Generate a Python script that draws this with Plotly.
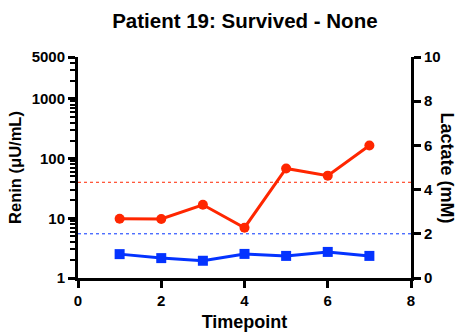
import math
import plotly.graph_objects as go

timepoints = [1, 2, 3, 4, 5, 6, 7]
renin = [9.8, 9.7, 16.8, 6.95, 68, 51.7, 165]
lactate = [1.08, 0.90, 0.78, 1.09, 1.0, 1.18, 1.0]
renin_threshold = 40
lactate_threshold = 2
renin_ticks = [1, 10, 100, 1000, 5000]
renin_minor = [m * 10 ** d for d in range(0, 4) for m in range(2, 10) if m * 10 ** d < 5000]
lactate_ticks = [0, 2, 4, 6, 8, 10]
x_ticks = [0, 2, 4, 6, 8]

RED = "#FF2600"
BLUE = "#0433FF"
FONT = "Arial, Liberation Sans, sans-serif"


def bold(vals):
    return ["<b>%s</b>" % v for v in vals]


fig = go.Figure()
fig.add_trace(go.Scatter(
    x=timepoints, y=renin, mode="lines+markers", yaxis="y",
    line=dict(color=RED, width=3), marker=dict(symbol="circle", size=10, color=RED),
    showlegend=False))
fig.add_trace(go.Scatter(
    x=timepoints, y=lactate, mode="lines+markers", yaxis="y2",
    line=dict(color=BLUE, width=3), marker=dict(symbol="square", size=10, color=BLUE),
    showlegend=False))

fig.add_shape(type="line", xref="paper", yref="y", x0=0, x1=1,
              y0=renin_threshold, y1=renin_threshold,
              line=dict(color=RED, width=1, dash="dot"), layer="below")
fig.add_shape(type="line", xref="paper", yref="y2", x0=0, x1=1,
              y0=lactate_threshold, y1=lactate_threshold,
              line=dict(color=BLUE, width=1, dash="dot"), layer="below")

tickfont = dict(family=FONT, size=15, color="black")
titlefont = dict(family=FONT, size=18, color="black")

fig.update_layout(
    template="none",
    width=456, height=336,
    margin=dict(l=78, r=45, t=57, b=58),
    paper_bgcolor="white", plot_bgcolor="white",
    title=dict(text="<b>Patient 19: Survived - None</b>", x=0.537, xanchor="center",
               y=1 - 21 / 336, yanchor="middle",
               font=dict(family=FONT, size=20.5, color="black")),
    xaxis=dict(range=[0, 8], tickvals=x_ticks, ticktext=bold(x_ticks),
               ticks="outside", ticklen=7, tickwidth=3, automargin=False,
               tickcolor="black", showline=True, linewidth=3, linecolor="black",
               showgrid=False, zeroline=False, tickfont=tickfont,
               title=dict(text="<b>Timepoint</b>", font=titlefont, standoff=8)),
    yaxis=dict(type="log", range=[0, math.log10(5000)], tickvals=renin_ticks,
               ticktext=bold(renin_ticks), automargin=False,
               ticks="outside", ticklen=7, tickwidth=3, tickcolor="black",
               minor=dict(tickvals=renin_minor, ticks="outside", ticklen=5, tickwidth=2,
                          tickcolor="black", showgrid=False),
               showline=True, linewidth=3, linecolor="black", showgrid=False,
               zeroline=False, tickfont=tickfont,
               title=dict(text="<b>Renin (μU/mL)</b>", standoff=6,
                          font=dict(family=FONT, size=16.5, color="black"))),
    yaxis2=dict(overlaying="y", side="right", range=[0, 10], tickvals=lactate_ticks,
                ticktext=bold(lactate_ticks), automargin=False,
                ticks="outside", ticklen=7, tickwidth=3, tickcolor="black",
                showline=True, linewidth=3, linecolor="black", showgrid=False,
                zeroline=False, tickfont=tickfont),
)

fig.add_annotation(text="<b>Lactate (mM)</b>", xref="paper", yref="paper",
                   x=1 + (447 - 411) / 333, y=0.5, textangle=90, showarrow=False,
                   xanchor="center", yanchor="middle", font=titlefont)

fig.write_html("out.html")
